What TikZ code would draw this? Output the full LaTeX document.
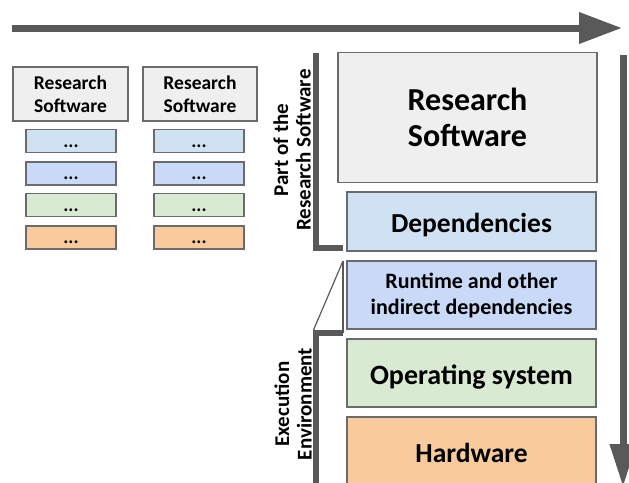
\documentclass[tikz,border=0pt]{standalone}
\usepackage{fontspec}
\setmainfont{Carlito}
\usetikzlibrary{arrows.meta}
\definecolor{dg}{HTML}{595959}
\definecolor{bd}{HTML}{6b6b6b}
\definecolor{cgray}{HTML}{EFEFEF}
\definecolor{cdep}{HTML}{CFE2F3}
\definecolor{crun}{HTML}{C9DAF8}
\definecolor{cos}{HTML}{D9EAD3}
\definecolor{chw}{HTML}{F9CB9C}
\begin{document}
\begin{tikzpicture}[x=1pt,y=-1pt,
  box/.style={draw=bd, line width=1.3pt, inner sep=0pt, align=center, font=\bfseries},
  dotbox/.style={box, minimum width=90pt, minimum height=23pt, font=\bfseries\fontsize{19}{21}\selectfont, text height=14pt, text depth=2pt},
  bigarrow/.style={draw=dg, line width=7pt},
  bracket/.style={draw=dg, line width=6.5pt, line join=miter},
  sidelabel/.style={rotate=90, align=center, inner sep=0pt, font=\bfseries\fontsize{21}{22.5}\selectfont}]
\useasboundingbox (0,0) rectangle (629,482);
\clip (0,0) rectangle (629,482);

% arrows
\coordinate (h1) at (12,28);
\coordinate (h2) at (622,28);
\draw[bigarrow, -{Triangle[length=43pt,width=30pt]}] (h1) -- (h2);
\coordinate (v1) at (623,55);
\coordinate (v2) at (623,487);
\draw[bigarrow, -{Triangle[length=43pt,width=25pt]}] (v1) -- (v2);

% small stacks
\node[box, fill=cgray, minimum width=115pt, minimum height=54pt, font=\bfseries\fontsize{19.5}{23}\selectfont] (rs1) at (70.5,94) {Research\\Software};
\node[box, fill=cgray, minimum width=114pt, minimum height=54pt, font=\bfseries\fontsize{19.5}{23}\selectfont] (rs2) at (200,94) {Research\\Software};
\node[dotbox, fill=cdep] (d1) at (71,141) {...};
\node[dotbox, fill=crun] (r1) at (71,173.5) {...};
\node[dotbox, fill=cos]  (o1) at (71,205) {...};
\node[dotbox, fill=chw]  (w1) at (71,237.5) {...};
\node[dotbox, fill=cdep] (d2) at (199,141) {...};
\node[dotbox, fill=crun] (r2) at (199,173.5) {...};
\node[dotbox, fill=cos]  (o2) at (199,205) {...};
\node[dotbox, fill=chw]  (w2) at (199,237.5) {...};

% main stack
\node[box, fill=cgray, minimum width=259pt, minimum height=130pt, font=\bfseries\fontsize{32}{36}\selectfont] (rs) at (467.5,117.5) {Research\\Software};
\node[box, fill=cdep, minimum width=249pt, minimum height=59pt, font=\bfseries\fontsize{27.5}{30}\selectfont, text height=21pt, text depth=0pt] (dep) at (471.5,221.5) {Dependencies};
\node[box, fill=crun, minimum width=249pt, minimum height=68pt, font=\bfseries\fontsize{22}{26}\selectfont] (run) at (471.5,295) {Runtime and other\\indirect dependencies};
\node[box, fill=cos, minimum width=249pt, minimum height=68pt, font=\bfseries\fontsize{28}{30}\selectfont, text height=22pt, text depth=0pt] (os) at (471.5,373) {Operating system};
\node[box, fill=chw, minimum width=249pt, minimum height=70pt, font=\bfseries\fontsize{27.5}{30}\selectfont, text height=20pt, text depth=0pt] (hw) at (471.5,452) {Hardware};

% brackets
\coordinate (b1) at (316,53);
\coordinate (b2) at (316,248);
\coordinate (b3) at (343,248);
\draw[bracket] (b1) -- (b2) -- (b3);
\coordinate (c1) at (343,333);
\coordinate (c2) at (316,333);
\coordinate (c3) at (316,490);
\draw[bracket] (c1) -- (c2) -- (c3);
\coordinate (t1) at (343,261);
\coordinate (t2) at (313.5,330);
\draw[dg, line width=2.5pt] (t1) -- (c1);
\draw[dg, line width=1.2pt] (t1) -- (t2);

% side labels
\node[sidelabel] (lab1) at (292,150) {Part of the\\Research Software};
\node[sidelabel] (lab2) at (293,404) {Execution\\Environment};
\end{tikzpicture}
\end{document}
